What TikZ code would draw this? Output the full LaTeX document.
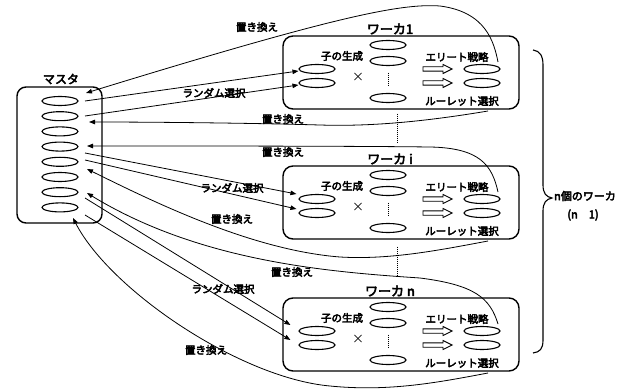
\documentclass[tikz,border=0pt]{standalone}
\usepackage{fontspec}
\setmainfont{Noto Sans CJK JP}[AutoFakeBold=4]
\usetikzlibrary{arrows.meta,shapes.geometric,calc}
\newcommand{\mkworker}[3]{%
  \node[wbox] (#1box) at (401,#2+27.5) {};
  \node[wtitle] (#1t) at (390,#2-16) {#3};
  \node[oval] (#1m1) at (388,#2) {};
  \node[oval] (#1m2) at (388,#2+16) {};
  \node[oval] (#1m3) at (388,#2+53) {};
  \draw[dotline] ([yshift=-6.5pt]#1m2.south) -- ([yshift=6.5pt]#1m3.north);
  \node[oval] (#1l1) at (317,#2+24) {};
  \node[oval] (#1l2) at (317,#2+38) {};
  \node[oval] (#1r1) at (482,#2+24) {};
  \node[oval] (#1r2) at (482,#2+38) {};
  \node[intext] (#1gen) at (342,#2+11) {子の生成};
  \node[intext,font=\fontsize{12}{12}\selectfont] (#1x) at (358,#2+32) {×};
  \node[intext] (#1el) at (457,#2+12) {エリート戦略};
  \node[intext] (#1ru) at (462,#2+56) {ルーレット選択};
  \draw[hollow] (423,#2+21.8) -- (443,#2+21.8) -- (443,#2+19.5) -- (452,#2+24) -- (443,#2+28.5) -- (443,#2+26.2) -- (423,#2+26.2) -- cycle;
  \draw[hollow] (423,#2+35.8) -- (443,#2+35.8) -- (443,#2+33.5) -- (452,#2+38) -- (443,#2+42.5) -- (443,#2+40.2) -- (423,#2+40.2) -- cycle;
  \coordinate (#1top) at (498,#2+17);
  \coordinate (#1bot) at (488,#2+66);
}
\begin{document}
\begin{tikzpicture}[x=1pt,y=-1pt,
  every node/.style={font=\bfseries},
  oval/.style={draw,ellipse,line width=1.1pt,minimum width=36pt,minimum height=9pt,inner sep=0pt},
  wbox/.style={draw,rounded corners=10pt,line width=1.4pt,minimum width=236pt,minimum height=73pt,inner sep=0pt},
  mbox/.style={draw,rounded corners=9pt,line width=1.4pt,minimum width=85pt,minimum height=136pt,inner sep=0pt},
  wtitle/.style={font=\bfseries\fontsize{13}{13}\selectfont,inner sep=0pt},
  mtitle/.style={font=\bfseries\fontsize{12}{12}\selectfont,inner sep=0pt},
  intext/.style={font=\bfseries\fontsize{10.5}{10.5}\selectfont,inner sep=0pt},
  lbl/.style={font=\bfseries\fontsize{10.5}{10.5}\selectfont,inner sep=0pt},
  dotline/.style={line width=0.8pt,dash pattern=on 1pt off 1pt},
  hollow/.style={line width=0.9pt,line join=miter},
  conn/.style={line width=0.8pt},
  arr/.style={conn,-{Triangle[length=6pt,width=4.5pt]}}
]
\useasboundingbox (0,0) rectangle (631,390);

% master
\node[mbox] (master) at (59.5,155) {};
\node[mtitle] (mlabel) at (61,79) {マスタ};
\foreach \i in {1,...,8} \node[oval] (m\i) at (60,{101+15.2*(\i-1)}) {};

% workers
\mkworker{w1}{45}{ワーカ1}
\mkworker{wi}{175}{ワーカ i}
\mkworker{wn}{307}{ワーカ n}

% dotted lines between workers
\draw[dotline] ($(w1box.south)+(-4,4)$) -- ($(wibox.north)+(-4,-22)$);
\draw[dotline] ($(wibox.south)+(-4,7)$) -- ($(wnbox.north)+(-4,-22)$);

% master-side coordinates
\coordinate (a1) at (86,93);
\coordinate (s1) at (85,101);
\coordinate (s2) at (85,116);
\coordinate (a2) at (89,122);
\coordinate (a3) at (87,146);
\coordinate (s3) at (85,153);
\coordinate (s4) at (85,160);
\coordinate (a4) at (87,169);
\coordinate (a5) at (87,193);
\coordinate (s5) at (85,198);
\coordinate (s6) at (85,215);
\coordinate (a6) at (73,218);

% worker 1
\draw[arr] (w1top) .. controls (494,42) and (486,12) .. (440,6) .. controls (400,3) and (330,18) .. (a1);
\draw[arr] (s1) -- ([yshift=-2pt]w1l1.west);
\draw[arr] (s2) -- ([yshift=-2pt]w1l2.west);
\draw[arr] (w1bot) .. controls (440,119) and (380,127) .. (320,125) .. controls (250,123) and (150,122) .. (a2);

% worker i
\draw[arr] (witop) .. controls (492,165) and (480,148) .. (430,147) .. controls (350,146) and (200,146) .. (a3);
\draw[arr] (s3) -- ([shift={(-2pt,5pt)}]wil1.west);
\draw[arr] (s4) -- ([shift={(-2pt,4pt)}]wil2.west);
\draw[arr] (wibot) .. controls (440,250) and (390,260) .. (340,257) .. controls (250,250) and (150,200) .. (a4);

% worker n
\draw[arr] (wntop) .. controls (490,298) and (475,285) .. (420,278) .. controls (330,272) and (200,262) .. (a5);
\draw[arr] (s5) -- ([shift={(-8pt,6pt)}]wnl1.west);
\draw[arr] (s6) -- ([shift={(-8pt,5pt)}]wnl2.west);
\draw[arr] (wnbot) .. controls (440,382) and (390,392) .. (330,386) .. controls (240,378) and (110,290) .. (a6);

% labels
\node[lbl] (r1) at (257,27) {置き換え};
\node[lbl] (q1) at (214,93) {ランダム選択};
\node[lbl] (r2) at (283,119) {置き換え};
\node[lbl] (r3) at (283,152) {置き換え};
\node[lbl] (q2) at (232,188) {ランダム選択};
\node[lbl] (r4) at (232,219) {置き換え};
\node[lbl] (r5) at (292,272) {置き換え};
\node[lbl] (q3) at (223,289) {ランダム選択};
\node[lbl] (r6) at (206,350) {置き換え};

% brace
\draw[line width=1.1pt] (533,50) .. controls (540,51) and (543,56) .. (543,65) -- (543,185) .. controls (543,193) and (546,197) .. (552,198) .. controls (546,199) and (543,203) .. (543,211) -- (543,340) .. controls (543,349) and (540,352) .. (533,353);
\node[lbl,font=\bfseries\fontsize{11}{11}\selectfont] (nw1) at (585,196) {n個のワーカ};
\node[lbl,font=\bfseries\fontsize{11}{11}\selectfont] (nw2) at (583,215) {(n\quad 1)};
\end{tikzpicture}
\end{document}
